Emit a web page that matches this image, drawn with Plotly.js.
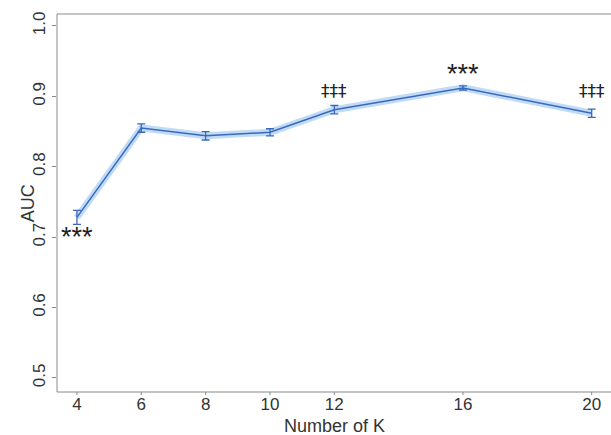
<!DOCTYPE html>
<html>
<head>
<meta charset="utf-8">
<script src="https://cdn.plot.ly/plotly-3.0.1.min.js"></script>
<style>html,body{margin:0;padding:0;background:#fff;overflow:hidden;}#chart{width:611px;height:435px;}</style>
</head>
<body>
<div id="chart"></div>
<script>
// Data
const kValues = [4, 6, 8, 10, 12, 16, 20];
const aucMean = [0.728, 0.855, 0.844, 0.849, 0.881, 0.912, 0.876];
const aucErr  = [0.010, 0.006, 0.006, 0.005, 0.006, 0.003, 0.006];
const xTickVals = [4, 6, 8, 10, 12, 16, 20];
const yTickVals = [0.5, 0.6, 0.7, 0.8, 0.9, 1.0];
const yTickText = ["0.5", "0.6", "0.7", "0.8", "0.9", "1.0"];
const markX = [4, 12, 16, 20];
const markY = [0.700, 0.908, 0.932, 0.908];
const markText = ["***", "‡‡‡", "***", "‡‡‡"];
const xTitle = "Number of K";
const yTitle = "AUC";

const font = "Liberation Sans, Arial, sans-serif";
const lineColor = "#3a68bd";
const frameColor = "#8a8a8a";

const traces = [
  { // light halo band
    x: kValues, y: aucMean, type: "scatter", mode: "lines",
    line: {color: "rgba(150,195,240,0.6)", width: 7},
    hoverinfo: "skip", showlegend: false
  },
  {
    x: kValues, y: aucMean, type: "scatter", mode: "lines",
    line: {color: lineColor, width: 1.5},
    error_y: {type: "data", array: aucErr, visible: true, color: lineColor, thickness: 1.3, width: 4},
    showlegend: false
  }
];

const annotations = markX.map((x, i) => ({
  x: x, y: markY[i], xref: "x", yref: "y", text: markText[i],
  showarrow: false,
  font: markText[i] === "***"
    ? {family: font, size: 27, color: "#222"}
    : {family: "DejaVu Sans, sans-serif", size: 17, color: "#222"}
}));
annotations.push({
  text: xTitle, xref: "paper", yref: "paper", x: 0.5, y: -0.09,
  xanchor: "center", yanchor: "middle", showarrow: false,
  font: {family: font, size: 18, color: "#333"}
});
annotations.push({
  text: yTitle, xref: "paper", yref: "paper", x: -0.052, y: 0.5,
  xanchor: "center", yanchor: "middle", textangle: -90, showarrow: false,
  font: {family: font, size: 18, color: "#333"}
});

const frame = [
  {type: "line", xref: "paper", yref: "paper", x0: 0, x1: 1, y0: 1, y1: 1, line: {color: frameColor, width: 1}},
  {type: "line", xref: "paper", yref: "paper", x0: 0, x1: 1, y0: 0, y1: 0, line: {color: frameColor, width: 1}},
  {type: "line", xref: "paper", yref: "paper", x0: 0, x1: 0, y0: 0, y1: 1, line: {color: frameColor, width: 1}}
];
// short downward tick marks on the x axis, at the tick values
const xTickMarks = xTickVals.map(v => ({
  type: "line", xref: "x", yref: "paper", x0: v, x1: v, y0: 0, y1: -0.008,
  line: {color: frameColor, width: 1}
}));

const layout = {
  width: 611, height: 435,
  margin: {l: 57, r: 0, t: 14, b: 43},
  paper_bgcolor: "#fff", plot_bgcolor: "#fff",
  showlegend: false,
  xaxis: {
    range: [3.38, 20.6],
    tickvals: xTickVals, ticktext: xTickVals.map(String),
    showgrid: false, zeroline: false, showline: false,
    ticks: "",
    tickfont: {family: font, size: 17, color: "#333"}
  },
  yaxis: {
    range: [0.480, 1.017],
    tickvals: yTickVals, ticktext: yTickText, tickangle: -90,
    showgrid: false, zeroline: false, showline: false,
    ticks: "outside", ticklen: 4, tickcolor: frameColor,
    tickfont: {family: font, size: 17, color: "#333"}
  },
  shapes: frame.concat(xTickMarks),
  annotations: annotations
};

Plotly.newPlot("chart", traces, layout, {displayModeBar: false, staticPlot: true});
</script>
</body>
</html>
